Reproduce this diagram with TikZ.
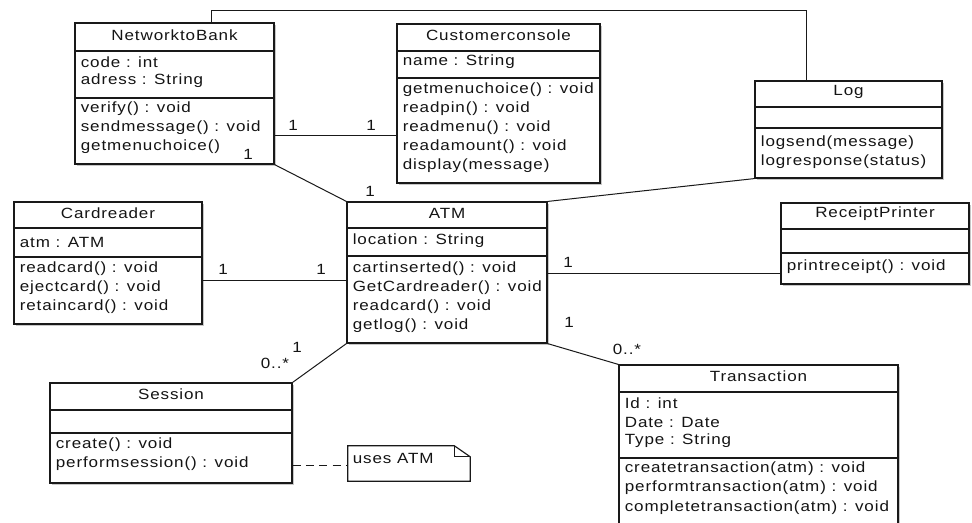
\documentclass[tikz,border=0pt]{standalone}
\usepackage{fontspec}
\setmainfont{Liberation Sans}[FakeStretch=1.15, LetterSpace=6]
\usetikzlibrary{fit,shadows}

% coordinates are given in pixels (y grows downwards)
\tikzset{
  x=0.75pt, y=-0.75pt,
  frame/.style={draw=black!90, line width=0.85pt},
  classframe/.style={frame, fill=white, inner sep=0pt,
    drop shadow={shadow xshift=1.6pt, shadow yshift=-1.6pt, fill=black!22, opacity=1}},
  rowtxt/.style={anchor=west, inner sep=0pt, text=black!92},
  titletxt/.style={anchor=center, inner sep=0pt, text=black!92},
  mult/.style={anchor=center, inner sep=0pt, text=black!92},
  assoc/.style={draw=black!90, line width=0.75pt},
}

% class frame: name, left, top, right, bottom
\newcommand\umlframe[5]{%
  \node[classframe, fit={(#2,#3) (#4,#5)}] (#1) {};}
% compartment separator: class name, y
\newcommand\umlsep[2]{%
  \draw[frame] (#1.west |- 0,#2) -- (#1.east |- 0,#2);}
% class title: node name, class name, y, text
\newcommand\umltitle[4]{%
  \node[titletxt] (#1) at (#2.center |- 0,#3) {#4};}
% compartment row: node name, class name, y, text
\newcommand\umlrow[4]{%
  \node[rowtxt] (#1) at ([xshift=4.6pt]#2.west |- 0,#3) {#4};}

\begin{document}
\begin{tikzpicture}[font=\fontsize{11.1pt}{13pt}\selectfont]
\useasboundingbox (0,0) rectangle (972,522);
\clip (0,0) rectangle (972,522);
\fill[white] (0,0) rectangle (972,522);

% ---- NetworktoBank
\umlframe{ntb}{75}{23}{274}{164}
\umlsep{ntb}{51}\umlsep{ntb}{98}
\umltitle{ntb-t}{ntb}{35}{NetworktoBank}
\umlrow{ntb-a1}{ntb}{62}{code : int}
\umlrow{ntb-a2}{ntb}{81}{adress : String}
\umlrow{ntb-m1}{ntb}{109}{verify() : void}
\umlrow{ntb-m2}{ntb}{128}{sendmessage() : void}
\umlrow{ntb-m3}{ntb}{147}{getmenuchoice()}

% ---- Customerconsole
\umlframe{ccon}{397}{24}{600}{183}
\umlsep{ccon}{51}\umlsep{ccon}{78}
\umltitle{ccon-t}{ccon}{35}{Customerconsole}
\umlrow{ccon-a1}{ccon}{62}{name : String}
\umlrow{ccon-m1}{ccon}{90}{getmenuchoice() : void}
\umlrow{ccon-m2}{ccon}{109}{readpin() : void}
\umlrow{ccon-m3}{ccon}{128}{readmenu() : void}
\umlrow{ccon-m4}{ccon}{147}{readamount() : void}
\umlrow{ccon-m5}{ccon}{166}{display(message)}

% ---- Log
\umlframe{log}{755}{81}{942}{178}
\umlsep{log}{107}\umlsep{log}{128}
\umltitle{log-t}{log}{92}{Log}
\umlrow{log-m1}{log}{143}{logsend(message)}
\umlrow{log-m2}{log}{162}{logresponse(status)}

% ---- Cardreader
\umlframe{crd}{14}{202}{202}{324}
\umlsep{crd}{228}\umlsep{crd}{257}
\umltitle{crd-t}{crd}{213}{Cardreader}
\umlrow{crd-a1}{crd}{242}{atm : ATM}
\umlrow{crd-m1}{crd}{269}{readcard() : void}
\umlrow{crd-m2}{crd}{288}{ejectcard() : void}
\umlrow{crd-m3}{crd}{307}{retaincard() : void}

% ---- ATM
\umlframe{atm}{347}{202}{547}{343}
\umlsep{atm}{228}\umlsep{atm}{256}
\umltitle{atm-t}{atm}{213}{ATM}
\umlrow{atm-a1}{atm}{241}{location : String}
\umlrow{atm-m1}{atm}{269}{cartinserted() : void}
\umlrow{atm-m2}{atm}{288}{GetCardreader() : void}
\umlrow{atm-m3}{atm}{307}{readcard() : void}
\umlrow{atm-m4}{atm}{326}{getlog() : void}

% ---- ReceiptPrinter
\umlframe{rcp}{781}{203}{969}{284}
\umlsep{rcp}{229}\umlsep{rcp}{253}
\umltitle{rcp-t}{rcp}{214}{ReceiptPrinter}
\umlrow{rcp-m1}{rcp}{267}{printreceipt() : void}

% ---- Session
\umlframe{ses}{50}{383}{292}{483}
\umlsep{ses}{410}\umlsep{ses}{433}
\umltitle{ses-t}{ses}{394}{Session}
\umlrow{ses-m1}{ses}{445}{create() : void}
\umlrow{ses-m2}{ses}{464}{performsession() : void}

% ---- Transaction (runs past the lower edge)
\umlframe{trn}{619}{365}{898}{540}
\umlsep{trn}{392}\umlsep{trn}{458}
\umltitle{trn-t}{trn}{376}{Transaction}
\umlrow{trn-a1}{trn}{403}{Id : int}
\umlrow{trn-a2}{trn}{422}{Date : Date}
\umlrow{trn-a3}{trn}{441}{Type : String}
\umlrow{trn-m1}{trn}{469}{createtransaction(atm) : void}
\umlrow{trn-m2}{trn}{488}{performtransaction(atm) : void}
\umlrow{trn-m3}{trn}{508}{completetransaction(atm) : void}

% ---- note attached to Session
\node[inner sep=0pt, fit={(348,446) (470,481)}] (note) {};
\draw[frame, fill=white]
  (note.north west) -- ([xshift=-12pt]note.north east)
  -- ([yshift=-8.3pt]note.north east) -- (note.south east)
  -- (note.south west) -- cycle;
\draw[frame] ([xshift=-12pt]note.north east) |- ([yshift=-8.3pt]note.north east);
\node[rowtxt] (note-t) at ([xshift=3.6pt]note.west |- 0,458) {uses ATM};

% ---- associations
\draw[assoc] (ntb.east |- 0,135) -- (ccon.west |- 0,135);
\draw[assoc] (ntb.south east) -- (atm.north west);
\draw[assoc] (ntb.north -| 211,0) -- (211,10) coordinate (bend1)
  -- (806,10) coordinate (bend2) -- (log.north -| 806,0);
\draw[assoc] (log.south west) -- (atm.north east);
\draw[assoc] (crd.east |- 0,280) -- (atm.west |- 0,280);
\draw[assoc] (atm.east |- 0,273) -- (rcp.west |- 0,273);
\draw[assoc] (atm.south west) -- (ses.north east);
\draw[assoc] (atm.south east) -- (trn.north west);
\draw[assoc, dashed, dash pattern=on 6pt off 4pt] (ses.east |- 0,465) -- (note.west |- 0,465);

% ---- multiplicities
\node[mult] (m1) at (293,125) {1};
\node[mult] (m2) at (371,125) {1};
\node[mult] (m3) at (248,154) {1};
\node[mult] (m4) at (370,191) {1};
\node[mult] (m5) at (223,269) {1};
\node[mult] (m6) at (321,269) {1};
\node[mult] (m7) at (568,262) {1};
\node[mult] (m8) at (569,322) {1};
\node[mult] (m9) at (297,347) {1};
\node[mult] (m10) at (275,363) {0..*};
\node[mult] (m11) at (627,349) {0..*};
\end{tikzpicture}
\end{document}
